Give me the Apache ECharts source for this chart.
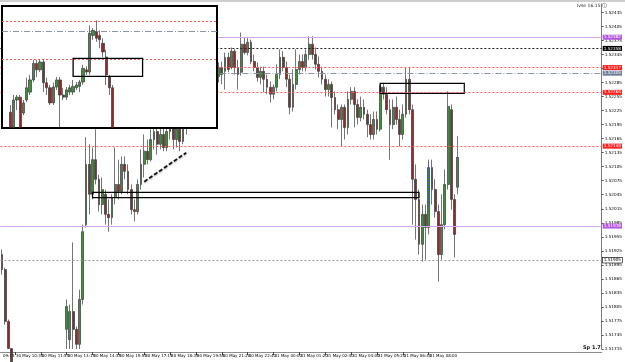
<!DOCTYPE html>
<html><head><meta charset="utf-8">
<script src="https://cdn.jsdelivr.net/npm/echarts@6/dist/echarts.min.js"></script>
<style>html,body{margin:0;padding:0;background:#fff}#c{width:625px;height:362px}</style>
</head><body><div id="c"></div>
<script>
// ---- tick labels (bottom time axis), one every 8 bars, first one is cut off ----
const tickLabels = {
  0: "09:15", 4: "30 May 10:35", 12: "30 May 11:55", 20: "30 May 13:15", 28: "30 May 14:35",
  36: "30 May 15:55", 44: "30 May 17:15", 52: "30 May 18:35", 60: "30 May 19:55",
  68: "30 May 21:20", 76: "30 May 22:40", 84: "31 May 00:00", 92: "31 May 01:20",
  100: "31 May 02:40", 108: "31 May 04:00", 116: "31 May 05:20", 124: "31 May 06:40",
  132: "31 May 08:00", 140: "31 May 09:20"
};
const slotCount = 186;
// ---- main candles [open, close, low, high] ----
const mainOHLC = [
[1.51917,1.51885,1.51874,1.51928],[1.51885,1.51774,1.51767,1.51889],[1.51774,1.51716,1.51715,1.51778],
[1.51716,1.51680,1.51660,1.51705],[1.51680,1.51650,1.51630,1.51690],[1.51650,1.51620,1.51600,1.51665],
[1.51620,1.51640,1.51605,1.51660],[1.51640,1.51610,1.51595,1.51655],[1.51610,1.51625,1.51590,1.51645],
[1.51625,1.51600,1.51585,1.51640],[1.51600,1.51630,1.51590,1.51650],[1.51630,1.51645,1.51615,1.51660],
[1.51645,1.51625,1.51610,1.51665],[1.51625,1.51655,1.51615,1.51670],[1.51655,1.51670,1.51640,1.51685],
[1.51670,1.51650,1.51635,1.51690],[1.51650,1.51675,1.51640,1.51695],[1.51675,1.51690,1.51660,1.51700],
[1.51690,1.51670,1.51655,1.51705],[1.51670,1.51695,1.51660,1.51708],
[1.51757,1.51806,1.51715,1.51821],[1.51735,1.51795,1.51715,1.51810],[1.51795,1.51757,1.51715,1.51943],
[1.51757,1.51725,1.51715,1.51763],[1.51725,1.51821,1.51715,1.51842],[1.51821,1.51966,1.51810,1.51981],
[1.51981,1.52110,1.51975,1.52168],[1.52110,1.52046,1.52003,1.52153],[1.52046,1.52120,1.52035,1.52146],
[1.52120,1.52078,1.52067,1.52185],[1.52078,1.52024,1.52009,1.52088],[1.52024,1.52056,1.52003,1.52082],
[1.52046,1.52003,1.51981,1.52056],[1.52003,1.51996,1.51966,1.52035],[1.51996,1.52039,1.51981,1.52046],
[1.52039,1.52067,1.52024,1.52146],[1.52067,1.52052,1.52035,1.52120],[1.52052,1.52110,1.52046,1.52127],
[1.52110,1.52095,1.52078,1.52127],[1.52095,1.52056,1.52046,1.52110],[1.52056,1.52013,1.52003,1.52067],
[1.52013,1.52009,1.51988,1.52035],[1.52009,1.52067,1.52003,1.52078],[1.52067,1.52110,1.52056,1.52142],
[1.52110,1.52138,1.52082,1.52174],[1.52138,1.52120,1.52110,1.52163],[1.52120,1.52163,1.52116,1.52185],
[1.52163,1.52180,1.52142,1.52195],[1.52180,1.52153,1.52131,1.52189],[1.52153,1.52174,1.52142,1.52202],
[1.52174,1.52146,1.52138,1.52189],[1.52146,1.52180,1.52138,1.52206],[1.52180,1.52189,1.52163,1.52217],
[1.52189,1.52163,1.52142,1.52210],[1.52163,1.52185,1.52146,1.52210],[1.52185,1.52159,1.52138,1.52206],
[1.52159,1.52189,1.52153,1.52217],[1.52189,1.52206,1.52174,1.52227],[1.52206,1.52227,1.52195,1.52249],
[1.52227,1.52249,1.52217,1.52270],[1.52249,1.52238,1.52223,1.52266],[1.52238,1.52266,1.52232,1.52281],
[1.52266,1.52281,1.52253,1.52296],[1.52281,1.52270,1.52260,1.52292],[1.52270,1.52292,1.52266,1.52309],
[1.52292,1.52300,1.52281,1.52313],[1.52292,1.52313,1.52285,1.52324],[1.52298,1.52317,1.52285,1.52328],
[1.52317,1.52302,1.52281,1.52330],[1.52309,1.52339,1.52270,1.52349],[1.52339,1.52313,1.52307,1.52349],
[1.52317,1.52352,1.52313,1.52360],[1.52352,1.52317,1.52302,1.52356],[1.52317,1.52302,1.52270,1.52334],
[1.52307,1.52367,1.52300,1.52392],[1.52367,1.52349,1.52345,1.52382],[1.52349,1.52371,1.52343,1.52382],
[1.52371,1.52330,1.52324,1.52377],[1.52330,1.52317,1.52309,1.52345],[1.52317,1.52296,1.52287,1.52328],
[1.52296,1.52309,1.52281,1.52319],[1.52309,1.52292,1.52264,1.52319],[1.52292,1.52275,1.52260,1.52302],
[1.52275,1.52260,1.52242,1.52287],[1.52260,1.52275,1.52249,1.52281],[1.52275,1.52302,1.52266,1.52324],
[1.52302,1.52339,1.52292,1.52356],[1.52339,1.52317,1.52309,1.52352],[1.52317,1.52292,1.52275,1.52330],
[1.52292,1.52232,1.52217,1.52302],[1.52232,1.52281,1.52223,1.52313],[1.52281,1.52313,1.52270,1.52356],
[1.52313,1.52330,1.52302,1.52345],[1.52330,1.52317,1.52309,1.52345],[1.52317,1.52345,1.52309,1.52356],
[1.52345,1.52367,1.52334,1.52384],[1.52367,1.52345,1.52334,1.52384],[1.52345,1.52324,1.52313,1.52360],
[1.52324,1.52309,1.52296,1.52341],[1.52309,1.52292,1.52281,1.52319],[1.52292,1.52270,1.52255,1.52302],
[1.52270,1.52281,1.52255,1.52292],[1.52281,1.52253,1.52189,1.52287],[1.52253,1.52227,1.52217,1.52266],
[1.52227,1.52206,1.52185,1.52238],[1.52206,1.52232,1.52148,1.52238],[1.52232,1.52189,1.52163,1.52238],
[1.52189,1.52249,1.52174,1.52266],[1.52249,1.52266,1.52238,1.52275],[1.52266,1.52238,1.52189,1.52275],
[1.52238,1.52210,1.52195,1.52249],[1.52210,1.52232,1.52202,1.52255],[1.52232,1.52217,1.52206,1.52249],
[1.52217,1.52195,1.52168,1.52227],[1.52195,1.52174,1.52163,1.52217],[1.52174,1.52206,1.52163,1.52223],
[1.52206,1.52185,1.52174,1.52223],[1.52185,1.52275,1.52180,1.52281],[1.52275,1.52260,1.52249,1.52283],
[1.52260,1.52227,1.52217,1.52275],[1.52227,1.52195,1.52120,1.52249],[1.52195,1.52232,1.52185,1.52249],
[1.52232,1.52206,1.52195,1.52255],[1.52206,1.52174,1.52148,1.52227],[1.52174,1.52217,1.52163,1.52238],
[1.52217,1.52292,1.52210,1.52317],[1.52292,1.52227,1.52217,1.52317],[1.52227,1.52078,1.51981,1.52238],
[1.52078,1.52035,1.51949,1.52110],[1.52035,1.51939,1.51917,1.52056],[1.51939,1.52003,1.51902,1.52024],
[1.52003,1.51975,1.51906,1.52024],[1.51975,1.52103,1.51960,1.52120],[1.52103,1.52056,1.52024,1.52120],
[1.52056,1.52009,1.51996,1.52078],[1.52009,1.51917,1.51859,1.52024],[1.51917,1.51981,1.51906,1.52046],
[1.51981,1.52067,1.51971,1.52099],[1.52067,1.52234,1.52056,1.52266],[1.52227,1.52035,1.52013,1.52238],
[1.52035,1.51960,1.51911,1.52046],[1.52061,1.52125,1.52046,1.52170]
];
// ---- inset (zoomed picture) candles [open, close, low, high]; first two slots empty ----
const insetOHLC = [
['-','-','-','-'],['-','-','-','-'],
[1.52190,1.52169,1.52168,1.52200],[1.52169,1.52207,1.52168,1.52214],[1.52207,1.52211,1.52193,1.52214],
[1.52211,1.52169,1.52168,1.52214],[1.52189,1.52203,1.52186,1.52207],[1.52207,1.52224,1.52204,1.52238],
[1.52218,1.52235,1.52214,1.52242],[1.52235,1.52258,1.52232,1.52263],[1.52258,1.52249,1.52239,1.52263],
[1.52249,1.52260,1.52246,1.52263],[1.52260,1.52231,1.52218,1.52263],[1.52231,1.52224,1.52214,1.52238],
[1.52224,1.52203,1.52200,1.52228],[1.52203,1.52225,1.52200,1.52231],[1.52225,1.52235,1.52221,1.52239],
[1.52235,1.52214,1.52169,1.52239],[1.52214,1.52211,1.52207,1.52224],[1.52211,1.52221,1.52207,1.52225],
[1.52218,1.52224,1.52214,1.52228],[1.52218,1.52226,1.52214,1.52235],[1.52224,1.52228,1.52221,1.52232],
[1.52226,1.52232,1.52218,1.52235],[1.52232,1.52251,1.52228,1.52256],[1.52249,1.52246,1.52242,1.52254],
[1.52246,1.52300,1.52242,1.52311],[1.52297,1.52304,1.52291,1.52307],[1.52302,1.52293,1.52288,1.52318],
[1.52297,1.52291,1.52279,1.52304],[1.52286,1.52274,1.52267,1.52293],[1.52267,1.52242,1.52228,1.52277],
[1.52239,1.52224,1.52214,1.52242],[1.52224,1.52169,1.52168,1.52228]
];
const insetSlots = 65;
// ---- horizontal price levels on the main chart ----
const levelPrices = [1.52382, 1.52358, 1.52317, 1.52305, 1.52264, 1.52149, 1.52127, 1.51978, 1.51905];
const levelKinds  = ['purple','black','red','gray','red','red','bid','purple','grayDot'];
// rectangles [startIndex, price1, endIndex, price2]
const mainBoxes = [[28, 1.52050, 129, 1.52039], [117, 1.52283, 143, 1.52262]];
const trendLine = [[44, 1.52073], [57, 1.52135]];
const blueMarker = [[132, 1.52114], [132, 1.52020]];
const insetLevels = [1.52317, 1.52303, 1.52264];
const insetLevelKinds = ['red','gray','red'];
const insetBox = [21, 1.52265, 42, 1.52240];

const styleFor = {
  purple:  {line:{color:'#d7a6ef', type:'solid', width:1}, bg:'#b655e0', fg:'#fff'},
  black:   {line:{color:'#222', type:[2,2], width:1}, bg:'#000', fg:'#fff'},
  red:     {line:{color:'#ff5a5a', type:[2,2], width:1}, bg:'#ff1e1e', fg:'#fff'},
  gray:    {line:{color:'#8a96a8', type:[6,2,1,2], width:1}, bg:'#6f7f98', fg:'#fff'},
  bid:     {line:{color:'#000', type:'solid', width:0, opacity:0}, bg:'#000', fg:'#fff'},
  grayDot: {line:{color:'#9a9a9a', type:[2,2], width:1}, bg:'#fff', fg:'#000', border:'#000'}
};

const cats = Array.from({length: slotCount}, (_, i) => String(i));
const insetCats = Array.from({length: insetSlots}, (_, i) => String(i));
const isTick = (i) => tickLabels[i] !== undefined;

const levelData = levelPrices.map((p, i) => {
  const s = styleFor[levelKinds[i]];
  return {
    yAxis: p,
    lineStyle: Object.assign({}, s.line),
    label: {
      show: true, position: 'end', distance: 1, formatter: p.toFixed(5),
      color: s.fg, backgroundColor: s.bg, borderColor: s.border || s.bg, borderWidth: s.border ? 0.6 : 0,
      fontSize: 4.2, padding: [1, 1, 0, 1], fontFamily: 'DejaVu Sans'
    }
  };
});
levelData.push([
  {coord: trendLine[0], lineStyle: {color:'#111', type:[4,2], width:1.8, shadowColor:'rgba(0,0,0,0.35)', shadowBlur:2, shadowOffsetY:1}, label:{show:false}},
  {coord: trendLine[1]}
]);
levelData.push([
  {coord: blueMarker[0], lineStyle: {color:'#2a3cff', type:[1,2], width:1}, label:{show:false}},
  {coord: blueMarker[1]}
]);

const insetLevelData = insetLevels.map((p, i) => ({
  yAxis: p, lineStyle: Object.assign({}, styleFor[insetLevelKinds[i]].line), label: {show: false}
}));

const candleStyle = {
  color: '#3e8e3e', color0: '#8e2a2a', borderColor: '#3a3a3a', borderColor0: '#3a3a3a', borderWidth: 0.7
};

const chart = echarts.init(document.getElementById('c'), null, {renderer: 'canvas'});
chart.setOption({
  animation: false,
  backgroundColor: '#fff',
  textStyle: {fontFamily: 'DejaVu Sans'},
  grid: [
    {left: 0, right: 20, top: 4, bottom: 13, show: false},
    {left: 2, top: 6, width: 215, height: 122, show: true, backgroundColor: '#fff', borderColor: '#000', borderWidth: 2, z: 10}
  ],
  xAxis: [
    {
      type: 'category', data: cats, gridIndex: 0, boundaryGap: true, offset: 3,
      axisLine: {show: true, lineStyle: {color: '#8c8c8c', width: 1}},
      axisTick: {show: true, alignWithLabel: true, length: 3, interval: (i) => isTick(i) && i > 0, lineStyle: {color: '#444'}},
      axisLabel: {
        interval: (i) => isTick(i), formatter: (v, i) => tickLabels[i] || '',
        align: 'left', fontSize: 4, color: '#000', margin: 2, padding: [0, 0, 0, 1]
      },
      splitLine: {show: false}
    },
    {type: 'category', data: insetCats, gridIndex: 1, show: false, boundaryGap: true}
  ],
  yAxis: [
    {
      type: 'value', gridIndex: 0, position: 'right', min: 1.51715, max: 1.52453, interval: 0.0003,
      axisLine: {show: true, lineStyle: {color: '#7a7a7a'}},
      axisTick: {show: true, length: 2, lineStyle: {color: '#555'}},
      axisLabel: {fontSize: 4.2, color: '#000', margin: 3, showMaxLabel: false, formatter: (v) => v.toFixed(5)},
      splitLine: {show: false}
    },
    {type: 'value', gridIndex: 1, min: 1.52168, max: 1.52338, show: false, splitLine: {show: false}}
  ],
  series: [
    {
      type: 'candlestick', xAxisIndex: 0, yAxisIndex: 0, data: mainOHLC, barWidth: 2.3, clip: true,
      itemStyle: candleStyle,
      markLine: {symbol: 'none', silent: true, animation: false, precision: 5, z: 5, data: levelData},
      markArea: {
        silent: true, z: 3,
        itemStyle: {color: 'rgba(0,0,0,0)', borderColor: '#000', borderWidth: 1.2},
        data: mainBoxes.map(b => [{coord: [b[0], b[1]]}, {coord: [b[2], b[3]]}])
      }
    },
    {
      type: 'candlestick', xAxisIndex: 1, yAxisIndex: 1, data: insetOHLC, barWidth: 2.8, z: 12, clip: true,
      itemStyle: candleStyle,
      markLine: {symbol: 'none', silent: true, animation: false, precision: 5, z: 11, data: insetLevelData},
      markArea: {
        silent: true, z: 13,
        itemStyle: {color: 'rgba(0,0,0,0)', borderColor: '#000', borderWidth: 1.3},
        data: [[{coord: [insetBox[0], insetBox[1]]}, {coord: [insetBox[2], insetBox[3]]}]]
      }
    }
  ],
  graphic: [
    {type: 'rect', left: 0, top: 0, shape: {width: 625, height: 2}, style: {fill: '#cfcfcf'}, z: 20},
    {type: 'text', left: 577, top: 3, style: {text: 'Ivse 16:15 \u24d8', fontSize: 4.5, fill: '#222', fontFamily: 'DejaVu Sans'}, z: 20},
    {type: 'text', left: 583, top: 345, style: {text: 'Sp 1.7', fontSize: 5, fontWeight: 'bold', fill: '#111', fontFamily: 'DejaVu Sans'}, z: 20}
  ]
});
</script></body></html>
